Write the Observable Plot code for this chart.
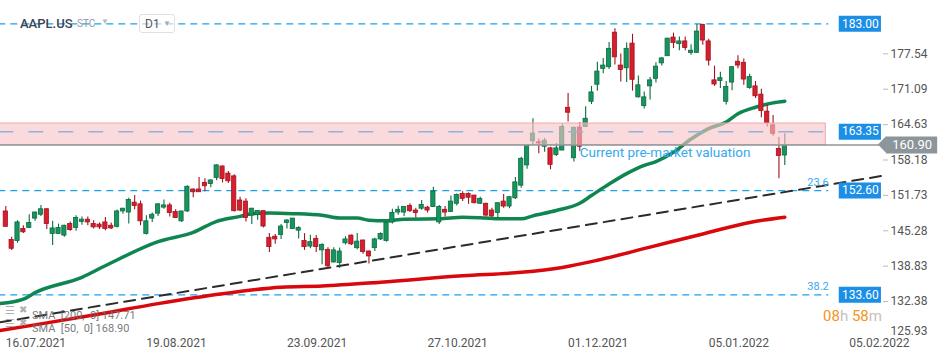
<!DOCTYPE html>
<html>
<head>
<meta charset="utf-8">
<script src="https://cdn.jsdelivr.net/npm/d3@7"></script>
<script src="https://cdn.jsdelivr.net/npm/@observablehq/plot@0.6"></script>
<style>
  body { margin: 0; background: #fff; font-family: Roboto, "Noto Sans", sans-serif; }
  #wrap { position: relative; width: 950px; height: 361px; overflow: hidden; }
  .ov { position: absolute; white-space: nowrap; line-height: 1; }
</style>
</head>
<body>
<div id="wrap"></div>
<script>
// ---- Data (AAPL.US, D1, 16.07.2021 – 25.01.2022), trading-day index 0..133 ----
const open = [
  148.8,143.6,143.4,145.6,145.8,147.5,148.2,149.2,144.7,144.7,
  144.4,146.5,145.8,146.9,147.3,146.5,146.4,146.8,146.2,146.0,
  148.8,148.6,150.4,150.1,144.7,147.5,148.4,149.5,149.9,148.7,
  147.0,148.8,152.8,152.8,154.0,153.8,154.9,157.0,155.7,155.2,
  150.8,150.6,148.05,148.2,148.85,144.0,144.2,144.5,146.7,145.6,
  145.3,143.4,142.4,143.8,141.7,141.8,139.5,139.4,143.0,144.4,
  142.1,143.5,141.5,142.1,143.7,143.4,146.8,148.6,148.6,149.8,
  148.97,149.3,149.5,149.6,146.8,149.1,148.7,150.2,152.0,152.0,
  151.7,150.2,150.2,148.97,148.5,150.6,149.7,151.2,153.5,157.2,
  161.6,161.4,160.6,160.3,159.1,159.9,167.7,158.5,164.1,164.2,
  168.8,171.9,174.8,175.1,181.4,175.4,174.9,179.4,169.6,168.0,
  171.6,172.98,175.8,177.1,180.5,179.3,179.8,177.7,177.7,182.8,
  179.8,172.7,172.6,168.8,172.3,176.1,175.9,171.3,171.6,170.1,
  167.0,164.5,160.2,159.0
];
const high = [
  149.7,144.1,147.1,146.2,148.2,148.7,149.9,149.3,147.0,146.5,
  146.3,146.9,148.0,147.8,147.8,147.1,146.7,147.7,146.7,149.05,
  149.4,151.2,151.7,150.7,148.0,148.5,150.2,150.9,150.3,149.1,
  148.8,153.5,152.9,155.0,154.75,154.6,157.3,157.1,156.1,155.5,
  151.4,151.1,149.4,148.97,148.9,144.8,144.6,146.4,147.3,147.5,
  146.0,144.75,144.45,144.4,142.9,142.2,142.2,142.15,144.2,144.5,
  144.8,143.6,141.6,143.9,144.9,146.8,149.2,149.75,149.6,150.2,
  149.4,150.8,149.7,153.2,149.9,149.7,151.6,152.0,152.4,152.2,
  151.7,151.4,150.3,149.4,150.4,151.9,151.5,155.0,158.7,161.0,
  165.7,162.0,162.1,160.5,161.2,164.8,170.3,164.2,165.0,167.9,
  171.6,176.0,176.7,179.6,182.1,177.5,179.5,181.1,173.5,170.6,
  173.2,175.9,176.85,180.4,181.3,180.6,180.6,179.2,182.9,182.94,
  180.2,175.3,174.2,172.5,175.2,177.2,176.6,173.8,172.5,171.1,
  168.2,166.3,162.3,162.95
];
const low = [
  145.9,141.7,143.0,144.8,145.7,147.0,147.9,145.5,142.6,144.6,
  144.1,145.2,145.2,146.3,146.2,145.6,145.5,145.3,145.5,145.8,
  148.3,146.5,149.1,146.2,144.5,146.8,147.9,149.2,147.8,147.5,
  146.8,148.6,151.3,152.3,152.4,153.1,154.4,154.0,153.9,148.7,
  148.75,146.9,146.4,147.2,145.8,141.3,142.8,143.7,145.6,145.5,
  143.8,141.7,142.0,141.3,139.1,138.3,139.4,138.4,142.7,142.6,
  141.8,141.0,139.2,141.5,143.5,143.2,146.5,148.1,147.9,148.6,
  147.6,149.0,148.5,149.5,146.4,147.8,148.6,149.8,150.6,150.1,
  150.2,150.1,147.85,147.7,147.5,149.4,149.3,151.0,153.05,156.5,
  160.9,159.3,159.6,156.4,158.8,159.9,165.1,157.8,159.7,164.2,
  168.3,170.7,173.9,174.7,175.5,172.4,172.3,170.75,169.5,167.5,
  169.1,172.2,175.3,177.1,178.5,178.1,178.1,177.3,177.7,179.1,
  175.3,171.6,171.2,168.2,170.8,174.8,171.8,171.1,169.4,165.9,
  164.2,162.5,154.75,157.2
];
const close = [
  146.0,142.0,146.8,145.0,146.7,148.6,149.2,146.5,145.7,145.8,
  146.2,145.4,147.6,147.3,146.8,145.9,145.9,145.6,145.7,148.8,
  149.3,150.9,149.8,147.0,147.0,148.2,150.1,149.9,148.5,147.6,
  148.8,153.3,152.3,152.3,153.4,154.45,157.2,154.7,154.3,148.85,
  148.97,147.6,149.3,148.9,146.05,142.3,143.7,146.05,147.15,147.5,
  145.8,142.3,143.2,142.3,142.7,138.8,141.7,141.5,143.7,142.8,
  143.3,141.4,140.6,143.7,144.7,146.7,148.55,149.1,149.6,148.85,
  148.5,150.0,148.97,152.44,149.6,148.6,150.6,151.8,151.1,151.3,
  150.3,151.1,148.05,147.9,150.3,149.7,151.4,154.1,158.4,160.8,
  163.0,161.2,161.7,157.3,160.3,164.2,166.8,164.05,160.6,165.7,
  170.5,174.3,175.4,178.45,176.9,174.6,178.45,172.8,171.8,169.6,
  172.7,175.2,176.7,180.3,179.5,179.8,178.6,178.1,181.6,179.96,
  176.3,171.95,173.1,171.5,175.1,175.4,172.85,173.3,169.8,167.1,
  164.9,162.95,158.9,160.9
];

// SMA 50 (green) and SMA 200 (red), sampled at trading-day indices
const sma50Idx = [-1,3,5,13,17,26,32,36,40,42,45,49,54,57,60,62,65,68,74,78,82,85,88,90,94,98,100,103,106,109,111,114,117,120,123,125,128,131,133];
const sma50Val = [132.0,132.8,134.0,136.8,138.9,143.3,145.0,147.0,147.9,148.4,148.5,148.4,148.1,147.6,147.6,147.2,147.1,147.4,147.45,147.75,147.6,147.45,147.45,148.0,148.97,150.3,151.7,153.8,155.7,157.2,157.9,159.6,162.0,163.9,165.1,166.6,167.8,168.6,168.9];
const sma200Idx = [-1,6,16,26,37,47,54,64,78,88,95,101,110,119,127,133];
const sma200Val = [127.1,128.3,130.1,132.0,133.8,135.0,135.2,135.9,137.1,137.7,138.6,139.9,142.3,144.7,146.8,147.75];

// Trend line (two anchor points)
const trendIdx = [-1, 149.7];
const trendVal = [128.58, 155.3];

// Levels
const fibLevels = [183.00, 152.60, 133.60];
const fibLabels = ["", "23.6", "38.2"];
const zoneLow = 160.90, zoneHigh = 164.83, zoneMid = 163.35;
const preMarket = 160.90;
const badgeLevels = [183.00, 163.35, 152.60, 133.60];

// Axis ticks
const xTicks = [0, 24, 48, 72, 96, 120, 144];
const xTickLabels = ["16.07.2021","19.08.2021","23.09.2021","27.10.2021","01.12.2021","05.01.2022","05.02.2022"];
const yTicks = [177.54, 171.09, 164.63, 158.18, 151.73, 145.28, 138.83, 132.38];
const yLastTick = [125.93];

// ---- Build ----
const candles = open.map((o, i) => ({i, o, h: high[i], l: low[i], c: close[i], up: close[i] >= o}));
const sma50 = sma50Idx.map((i, k) => ({i, v: sma50Val[k]}));
const sma200 = sma200Idx.map((i, k) => ({i, v: sma200Val[k]}));
const trend = trendIdx.map((i, k) => ({i, v: trendVal[k]}));
const fibs = fibLevels.map((v, k) => ({v, label: fibLabels[k]}));
const xLabel = new Map(xTicks.map((t, k) => [t, xTickLabels[k]]));

const G_FILL = "#17955e", G_DARK = "#0b6b42";
const R_FILL = "#d61f2e", R_DARK = "#a3121d";
const LINE_END = 140.5, ZONE_END = 140;
const fmt = d3.format(".2f");

const chart = Plot.plot({
  width: 950, height: 361,
  marginLeft: 0, marginRight: 68, marginTop: 0, marginBottom: 24,
  x: {domain: [-0.905, 149.68], axis: null, label: null},
  y: {domain: [125.82, 187.26], axis: null, label: null},
  color: {type: "identity"},
  style: {fontFamily: "Roboto, sans-serif", fontSize: "12px", background: "white", overflow: "visible"},
  marks: [
    Plot.ruleY(fibs, {y: "v", x1: -1.2, x2: LINE_END, stroke: "#1aa3ec", strokeWidth: 1.2, strokeDasharray: "7,5"}),
    Plot.line(trend, {x: "i", y: "v", stroke: "#2b2b2b", strokeWidth: 2, strokeDasharray: "11,7"}),
    Plot.line(sma200, {x: "i", y: "v", stroke: "#d8080c", strokeWidth: 3.5, curve: "monotone-x", clip: true}),
    Plot.line(sma50, {x: "i", y: "v", stroke: "#0f8650", strokeWidth: 3.5, curve: "monotone-x", clip: true}),
    Plot.ruleX(candles, {x: "i", y1: "l", y2: "h", stroke: d => d.up ? G_DARK : R_DARK, strokeWidth: 1.1}),
    Plot.rect(candles, {x1: d => d.i - 0.36, x2: d => d.i + 0.36, y1: "o", y2: "c",
      fill: d => d.up ? G_FILL : R_FILL, stroke: d => d.up ? G_DARK : R_DARK, strokeWidth: 0.8}),
    // pink resistance zone (overlay)
    Plot.rect([0], {x1: -1.2, x2: ZONE_END, y1: zoneLow, y2: zoneHigh, fill: "#f7c4c8", fillOpacity: 0.62, stroke: "#f0a8ad", strokeWidth: 1}),
    Plot.ruleY([zoneMid], {x1: -1.2, x2: LINE_END, stroke: "#8db4dc", strokeWidth: 1.5, strokeDasharray: "15,15"}),
    Plot.ruleY([preMarket], {stroke: "#8e969b", strokeWidth: 1.5}),
    Plot.text(["Current pre-market valuation"], {x: 98, y: preMarket, dy: 8, text: d => d, textAnchor: "start", fill: "#35a9ef", fontSize: 13.5}),
    Plot.text(fibs.filter(d => d.label), {x: LINE_END, y: "v", dy: -8, text: "label", textAnchor: "end", fill: "#35a9ef", fontSize: 11}),
    // blue level badges
    Plot.ruleY(badgeLevels, {x1: 142.3, x2: 149.5, stroke: "#1a8fe5", strokeWidth: 16}),
    Plot.text(badgeLevels, {x: 145.9, y: d => d, text: d => fmt(d), fill: "white", fontSize: 12}),
    // gray current-price badge
    Plot.areaY([{i: 148.99, a: preMarket, b: preMarket}, {i: 150.4, a: preMarket - 1.55, b: preMarket + 1.55}], {x: "i", y1: "a", y2: "b", fill: "#8c9599"}),
    Plot.ruleY([preMarket], {x1: 150.37, x2: 159.1, stroke: "#8c9599", strokeWidth: 17}),
    Plot.text([preMarket], {x: 154.75, y: d => d, text: d => fmt(d), fill: "white", fontSize: 13}),
    // axes
    Plot.axisY(yTicks, {anchor: "right", label: null, tickSize: 5, tickPadding: 3, tickFormat: fmt, stroke: "#bbbbbb", fill: "#555", fontSize: 12}),
    Plot.text(yLastTick, {y: d => d, frameAnchor: "right", dx: 8, dy: -6, textAnchor: "start", text: d => fmt(d), fill: "#555", fontSize: 12}),
    Plot.axisX(xTicks, {anchor: "bottom", label: null, tickSize: 0, tickPadding: 1, textAnchor: "start", tickFormat: d => xLabel.get(d), fill: "#555", fontSize: 12})
  ]
});

const wrap = document.getElementById("wrap");
wrap.appendChild(chart);

// ---- HTML overlays (platform widgets) ----
function ov(html, css) {
  const d = document.createElement("div");
  d.className = "ov";
  d.innerHTML = html;
  Object.assign(d.style, css);
  wrap.appendChild(d);
  return d;
}
ov("AAPL.US", {left: "20px", top: "17px", fontSize: "13px", fontWeight: "500", color: "#3b4650"});
ov("STC", {left: "77px", top: "19px", fontSize: "10px", color: "#8d9ba8"});
ov("&#9660;", {left: "101px", top: "18px", fontSize: "8px", color: "#b5bcc3"});
ov('<span style="position:absolute;left:5px;top:3px;font-size:12px;color:#555">D1</span><span style="position:absolute;left:23px;top:5px;font-size:8px;color:#aaa">&#9660;</span>',
   {left: "139px", top: "14px", width: "34px", height: "17px", border: "1px solid #e0e0e0", borderRadius: "3px", background: "rgba(255,255,255,0.6)"});
ov("&#9776;", {left: "5px", top: "305px", fontSize: "11px", color: "#b0b0b0"});
ov("&#10006;", {left: "19px", top: "305px", fontSize: "10px", color: "#b0b0b0"});
ov("&#9776;", {left: "5px", top: "318px", fontSize: "11px", color: "#b0b0b0"});
ov("&#10006;", {left: "19px", top: "318px", fontSize: "10px", color: "#b0b0b0"});
ov("SMA&nbsp;&nbsp;[200,&nbsp;&nbsp;0]&nbsp;147.71", {left: "32px", top: "310px", fontSize: "11px", color: "#6e6e6e", opacity: "0.9"});
ov("SMA&nbsp;&nbsp;[50,&nbsp;&nbsp;0]&nbsp;168.90", {left: "32px", top: "323px", fontSize: "11px", color: "#6e6e6e", opacity: "0.9"});
ov('<span style="color:#f7941d">08</span><span style="color:#c2c2c2">h</span> <span style="color:#f7941d">58</span><span style="color:#c2c2c2">m</span>',
   {left: "823px", top: "309px", fontSize: "15px"});
</script>
</body>
</html>
